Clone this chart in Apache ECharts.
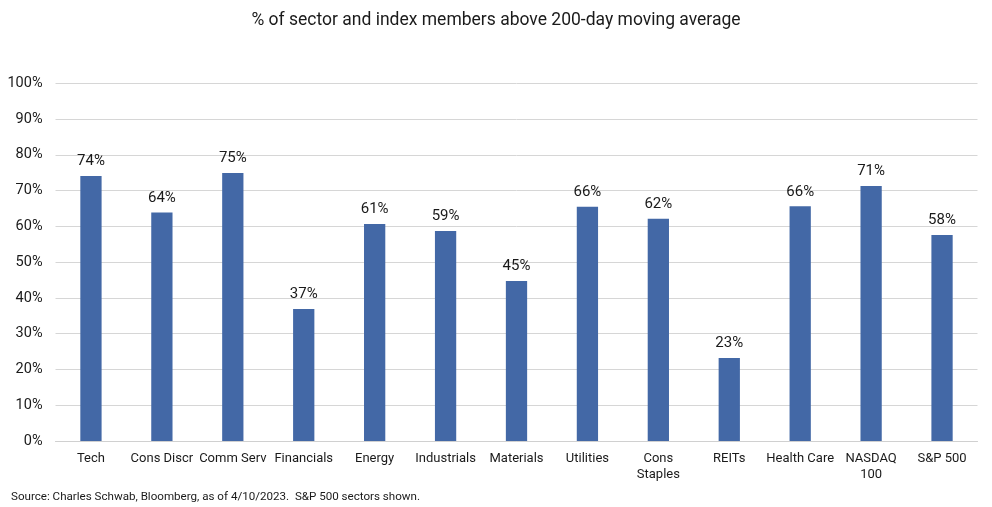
<!DOCTYPE html>
<html>
<head>
<meta charset="utf-8">
<script src="https://cdn.jsdelivr.net/npm/echarts@6/dist/echarts.min.js"></script>
<style>
html,body{margin:0;padding:0;background:#fff;}
#chart{width:992px;height:507px;}
</style>
</head>
<body>
<div id="chart"></div>
<script>
const categories = ['Tech','Cons Discr','Comm Serv','Financials','Energy','Industrials','Materials','Utilities','Cons\nStaples','REITs','Health Care','NASDAQ\n100','S&P 500'];
const values = [74.1, 63.9, 74.9, 36.9, 60.7, 58.7, 44.7, 65.5, 62.1, 23.2, 65.6, 71.3, 57.6];
const yTicks = [0, 10, 20, 30, 40, 50, 60, 70, 80, 90, 100];
const titleText = '% of sector and index members above 200-day moving average';
const sourceText = 'Source: Charles Schwab, Bloomberg, as of 4/10/2023.  S&P 500 sectors shown.';

const font = 'Roboto, "Open Sans", sans-serif';
const chart = echarts.init(document.getElementById('chart'));
chart.setOption({
  animation: false,
  backgroundColor: '#ffffff',
  title: [{
    text: titleText,
    left: 'center',
    top: 7,
    textStyle: {fontFamily: font, fontSize: 17.5, fontWeight: 'normal', color: '#1a1a1a'}
  }, {
    text: sourceText,
    left: 6,
    top: 486,
    textStyle: {fontFamily: font, fontSize: 11.6, fontWeight: 'normal', color: '#1a1a1a'}
  }],
  grid: {left: 55.5, right: 14.5, top: 83.3, bottom: 66, containLabel: false},
  xAxis: {
    type: 'category',
    data: categories,
    axisLine: {show: true, lineStyle: {color: '#d0d0d0', width: 1}},
    axisTick: {show: false},
    axisLabel: {fontFamily: font, fontSize: 13, color: '#1a1a1a', margin: 10, interval: 0, lineHeight: 16}
  },
  yAxis: {
    type: 'value',
    min: yTicks[0],
    max: yTicks[yTicks.length - 1],
    interval: 10,
    axisLine: {show: false},
    axisTick: {show: false},
    splitLine: {lineStyle: {color: '#d6d6d6', width: 1}},
    axisLabel: {fontFamily: font, fontSize: 14.5, color: '#1a1a1a', margin: 13, formatter: v => v + '%'}
  },
  series: [{
    type: 'bar',
    data: values,
    barWidth: '30%',
    itemStyle: {color: '#4368a6'},
    label: {
      show: true,
      position: 'top',
      distance: 7,
      fontFamily: font,
      fontSize: 15,
      color: '#1a1a1a',
      formatter: p => Math.round(p.value) + '%'
    }
  }]
});
</script>
</body>
</html>
